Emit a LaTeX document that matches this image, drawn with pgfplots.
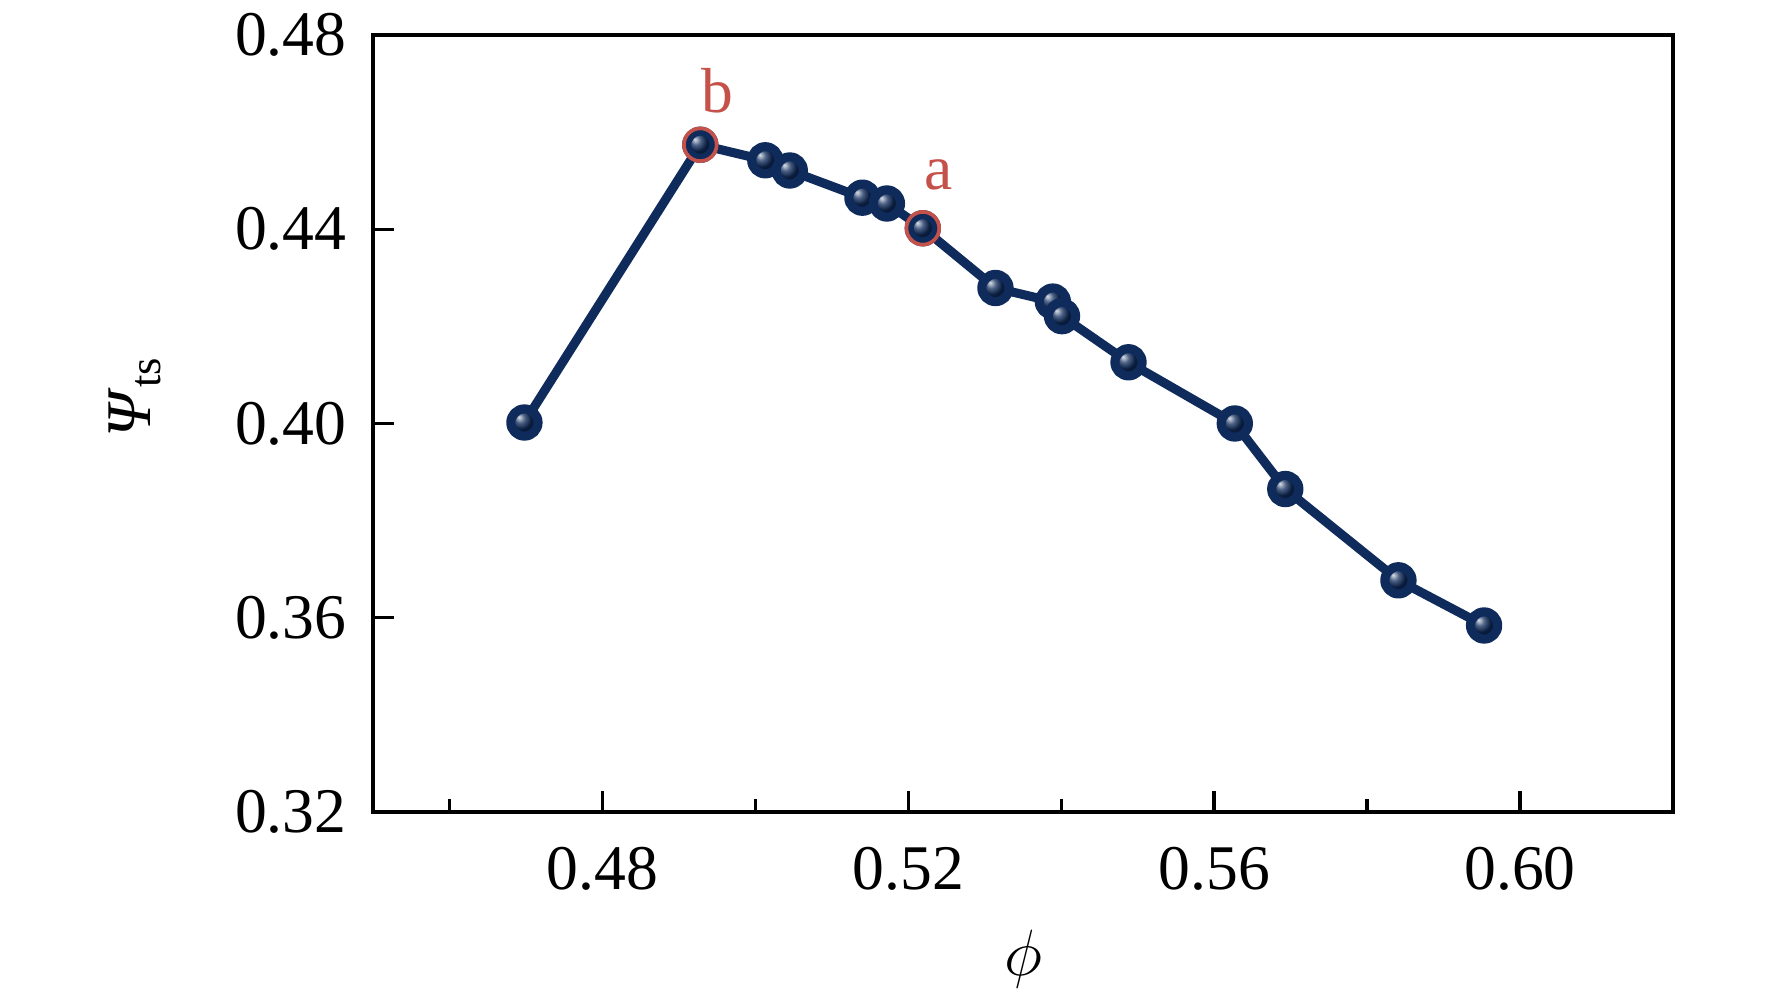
\documentclass[border=0pt]{standalone}
\usepackage{pgfplots}
\pgfplotsset{compat=1.18}
\usetikzlibrary{calc}
\usepackage{fontspec}
\setmainfont{Liberation Serif}
\definecolor{navy}{HTML}{0F2B5B}
\definecolor{redc}{HTML}{C5524A}
\begin{document}
\fontsize{14pt}{17pt}\selectfont
\begin{tikzpicture}
\begin{axis}[
  scale only axis, width=286.1pt, height=171pt,
  xmin=0.45, xmax=0.62, ymin=0.32, ymax=0.48,
  axis line style={line width=0.75pt},
  xtick={0.48,0.52,0.56,0.60}, minor xtick={0.46,0.50,0.54,0.58},
  ytick={0.32,0.36,0.40,0.44,0.48},
  tick align=inside, xtick pos=bottom, ytick pos=left,
  major tick length=4.6pt, minor tick length=2.9pt,
  tick style={line width=0.75pt, black},
  scaled ticks=false,
  /pgf/number format/assume math mode=true,
  xticklabel={\pgfmathprintnumber[fixed,fixed zerofill,precision=2]{\tick}},
  yticklabel={\pgfmathprintnumber[fixed,fixed zerofill,precision=2]{\tick}},
  xticklabel style={yshift=-2.8pt},
  yticklabel style={xshift=-1pt},
  every axis x label/.style={at={(axis description cs:0.5,-0.19)}, anchor=center},
  every axis y label/.style={at={(axis description cs:-0.183,0.535)}, anchor=center, rotate=90},
  xlabel={$\phi$},
  ylabel={\textit{Ψ}\textsubscript{ts}},
  clip=false,
]
\addplot[navy, line width=2pt, line join=round, mark=ball, mark size=3pt,
  mark options={ball color=navy}] coordinates {
  (0.4698,0.4002) (0.4928,0.4574) (0.5013,0.4542) (0.5045,0.4521)
  (0.5140,0.4465) (0.5172,0.4453) (0.5219,0.4402) (0.5314,0.4279)
  (0.5389,0.4251) (0.5401,0.4221) (0.5488,0.4126) (0.5627,0.4000)
  (0.5693,0.3865) (0.5841,0.3677) (0.5953,0.3584)
};
\addplot[redc, only marks, mark=o, mark size=3.6pt, mark options={line width=0.8pt}]
  coordinates {(0.4928,0.4574) (0.5219,0.4402)};
\node[redc] at (axis cs:0.4951,0.4686) {b};
\node[redc] at (axis cs:0.5240,0.4512) {a};
\end{axis}
\pgfresetboundingbox
\path ($(current axis.south west)+(-82.1pt,-41.4pt)$) rectangle ($(current axis.north east)+(21.8pt,7.7pt)$);
\end{tikzpicture}
\end{document}
